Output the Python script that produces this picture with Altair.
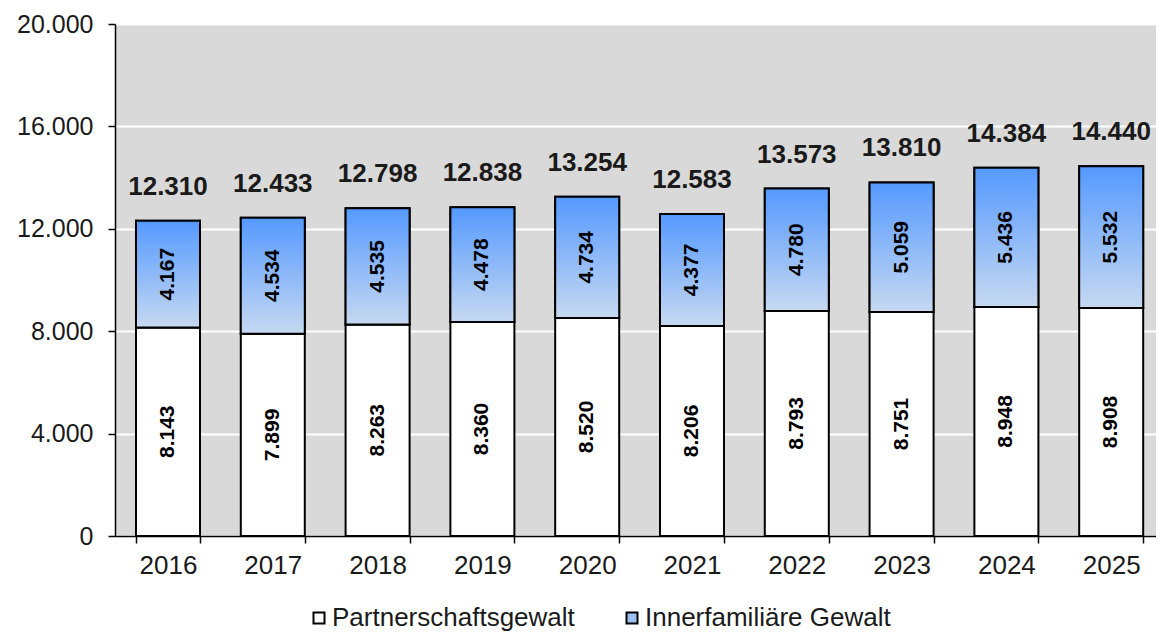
import altair as alt
import pandas as pd

years = ["2016", "2017", "2018", "2019", "2020", "2021", "2022", "2023", "2024", "2025"]
partner = [8143, 7899, 8263, 8360, 8520, 8206, 8793, 8751, 8948, 8908]
inner = [4167, 4534, 4535, 4478, 4734, 4377, 4780, 5059, 5436, 5532]
totals = [12310, 12433, 12798, 12838, 13254, 12583, 13573, 13810, 14384, 14440]
series = ["Partnerschaftsgewalt", "Innerfamiliäre Gewalt"]
y_ticks = [0, 4000, 8000, 12000, 16000, 20000]

rows = []
for i, yr in enumerate(years):
    rows.append({"year": yr, "series": series[0], "value": partner[i], "order": 0})
    rows.append({"year": yr, "series": series[1], "value": inner[i], "order": 1})
df = pd.DataFrame(rows)
tot = pd.DataFrame({"year": years, "total": totals})

FONT = "Liberation Sans"
de_fmt = "replace(format(datum.value, ','), ',', '.')"

xenc = alt.X(
    "year:N", title=None,
    scale=alt.Scale(paddingInner=0.3893, paddingOuter=0.1613, align=0.621),
    axis=alt.Axis(labelAngle=0, labelFontSize=26, labelColor="#1a1a1a", labelPadding=9,
                  tickBand="extent", tickSize=7, tickColor="black", tickWidth=1.5,
                  domainColor="black", domainWidth=1.5, grid=False, labelFont=FONT),
)
yenc = alt.Y(
    "y1:Q", title=None,
    scale=alt.Scale(domain=[0, 20000], nice=False),
    axis=alt.Axis(values=y_ticks, labelExpr=de_fmt, labelFontSize=25, labelColor="#1a1a1a",
                  labelPadding=15, tickSize=7, tickColor="black", tickWidth=1.5,
                  domainColor="black", domainWidth=1.5, gridColor="white", gridWidth=2,
                  labelFont=FONT),
)

base = alt.Chart(df).transform_stack(
    stack="value", groupby=["year"], as_=["y0", "y1"], sort=[alt.SortField("order")]
).transform_calculate(
    mid="(datum.y0 + datum.y1) / 2",
    lbl="replace(format(datum.value, ','), ',', '.')",
)

bars = base.mark_bar(stroke="black", strokeWidth=2).encode(
    x=xenc, y=yenc, y2="y0:Q",
    fill=alt.Fill("series:N", scale=alt.Scale(domain=series, range=["white", "#9dbff2"]),
                  legend=alt.Legend(title=None, orient="none", legendX=191, legendY=581,
                                    direction="horizontal", symbolType="square", symbolSize=121,
                                    symbolStrokeColor="black", symbolStrokeWidth=2,
                                    labelFontSize=26, labelFont=FONT, labelColor="#1a1a1a",
                                    labelLimit=0, columnPadding=44, labelOffset=0)),
)

gradient = {
    "gradient": "linear", "x1": 0, "y1": 0, "x2": 0, "y2": 1,
    "stops": [{"offset": 0, "color": "#5599ff"}, {"offset": 1, "color": "#c6d9f1"}],
}
grad = base.transform_filter(alt.datum.order == 1).mark_bar(
    fill=gradient, stroke="black", strokeWidth=2
).encode(x="year:N", y="y1:Q", y2="y0:Q")

labels = base.mark_text(angle=270, fontSize=21, fontWeight="bold", font=FONT, color="black",
                        align="center", baseline="middle").encode(
    x="year:N", y="mid:Q", text="lbl:N")

tot_labels = alt.Chart(tot).transform_calculate(
    lbl="replace(format(datum.total, ','), ',', '.')"
).mark_text(dy=-26, baseline="alphabetic", fontSize=26, fontWeight="bold", font=FONT,
            color="#1a1a1a").encode(x="year:N", y="total:Q", text="lbl:N")

chart = alt.layer(bars, grad, labels, tot_labels).properties(
    width=1041, height=512, autosize="none",
    padding={"left": 107, "top": 16, "right": 0, "bottom": 100},
).configure_view(fill="#d9d9d9", stroke=None)

chart.save("out.html", embed_options={"renderer": "svg", "actions": False})
